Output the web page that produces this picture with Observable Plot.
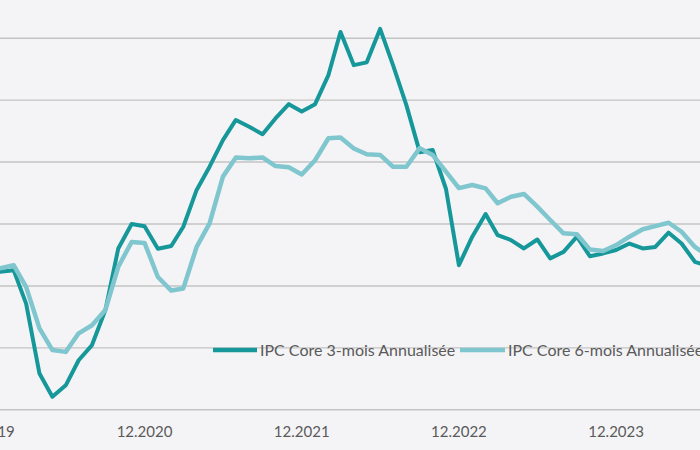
<!DOCTYPE html>
<html>
<head>
<meta charset="utf-8">
<script src="https://cdn.jsdelivr.net/npm/d3@7"></script>
<script src="https://cdn.jsdelivr.net/npm/@observablehq/plot@0.6"></script>
<style>
html, body { margin: 0; padding: 0; background: #f4f4f6; }
#chart { width: 700px; height: 450px; overflow: hidden; }
</style>
</head>
<body>
<div id="chart"></div>
<script>
// ---- Data (monthly, Jan 2020 → Jul 2024) ----
const firstMonth = "2020-01-01";
const core3m = [
  2.46, 2.51, 1.43, -0.83, -1.58, -1.21, -0.40, 0.09, 1.22, 3.21, 4.00, 3.93,
  3.20, 3.29, 3.91, 5.10, 5.85, 6.71, 7.36, 7.14, 6.90, 7.41, 7.87, 7.63,
  7.87, 8.81, 10.20, 9.13, 9.22, 10.30, 9.13, 7.84, 6.32, 6.39, 5.13, 2.67,
  3.59, 4.32, 3.64, 3.48, 3.21, 3.50, 2.89, 3.10, 3.59, 2.96, 3.05, 3.16,
  3.37, 3.21, 3.26, 3.72, 3.37, 2.78, 2.64
];
const core6m = [
  2.57, 2.67, 1.97, 0.63, -0.07, -0.13, 0.47, 0.73, 1.22, 2.62, 3.42, 3.39,
  2.29, 1.85, 1.92, 3.26, 4.02, 5.53, 6.15, 6.12, 6.15, 5.87, 5.83, 5.60,
  6.06, 6.77, 6.79, 6.44, 6.25, 6.23, 5.85, 5.85, 6.45, 6.23, 5.69, 5.16,
  5.26, 5.15, 4.67, 4.88, 4.97, 4.56, 4.13, 3.70, 3.67, 3.18, 3.13, 3.32,
  3.59, 3.83, 3.93, 4.04, 3.75, 3.26, 2.96
];
const seriesNames = ["IPC Core 3-mois Annualisée", "IPC Core 6-mois Annualisée"];
const seriesColors = ["#16979a", "#80c6ce"];
const tickDates = ["2019-12-01", "2020-12-01", "2021-12-01", "2022-12-01", "2023-12-01"];
const gridValues = [-2, 0, 2, 4, 6, 8, 10];
const xDomain = ["2020-01-01T12:00:00Z", "2024-06-14T00:00:00Z"];

// ---- Build rows ----
const start = new Date(firstMonth);
const months = d3.utcMonth.range(start, d3.utcMonth.offset(start, core3m.length));
const rows3 = months.map((d, i) => ({date: d, value: core3m[i]}));
const rows6 = months.map((d, i) => ({date: d, value: core6m[i]}));

const chart = Plot.plot({
  width: 700,
  height: 450,
  marginLeft: 0,
  marginRight: 0,
  marginTop: 37.7,
  marginBottom: 40.7,
  style: {background: "#f4f4f6", fontFamily: "Lato, 'Open Sans', sans-serif", overflow: "hidden"},
  x: {type: "utc", domain: xDomain.map(d => new Date(d))},
  y: {domain: [-2, 10], axis: null},
  marks: [
    Plot.ruleY(gridValues, {stroke: "#c4c4c4", strokeWidth: 1.4}),
    Plot.axisX(tickDates.map(d => new Date(d)), {
      tickSize: 0, tickPadding: 17, tickFormat: d3.utcFormat("%m.%Y"),
      fontSize: 15, fill: "#5a5a5a", label: null
    }),
    Plot.lineY(rows3, {x: "date", y: "value", stroke: seriesColors[0], strokeWidth: 4,
      strokeLinejoin: "round", strokeLinecap: "round"}),
    Plot.lineY(rows6, {x: "date", y: "value", stroke: seriesColors[1], strokeWidth: 4.5,
      strokeLinejoin: "round", strokeLinecap: "round"})
  ]
});

// ---- Legend inside plot ----
const svg = d3.select(chart);
const legendPos = [{x0: 213, x1: 257, tx: 260}, {x0: 460, x1: 505, tx: 508}];
const legendY = 350;
const lg = svg.append("g").attr("text-anchor", "start");
seriesNames.forEach((name, i) => {
  const p = legendPos[i];
  lg.append("line").attr("x1", p.x0).attr("x2", p.x1).attr("y1", legendY).attr("y2", legendY)
    .attr("stroke", seriesColors[i]).attr("stroke-width", 4.5);
  lg.append("text").attr("x", p.tx).attr("y", legendY).attr("dy", "0.36em")
    .attr("text-anchor", "start")
    .attr("font-size", 16).attr("fill", "#5a5a5a")
    .attr("font-family", "Lato, 'Open Sans', sans-serif").text(name);
});

document.getElementById("chart").appendChild(chart);
</script>
</body>
</html>
